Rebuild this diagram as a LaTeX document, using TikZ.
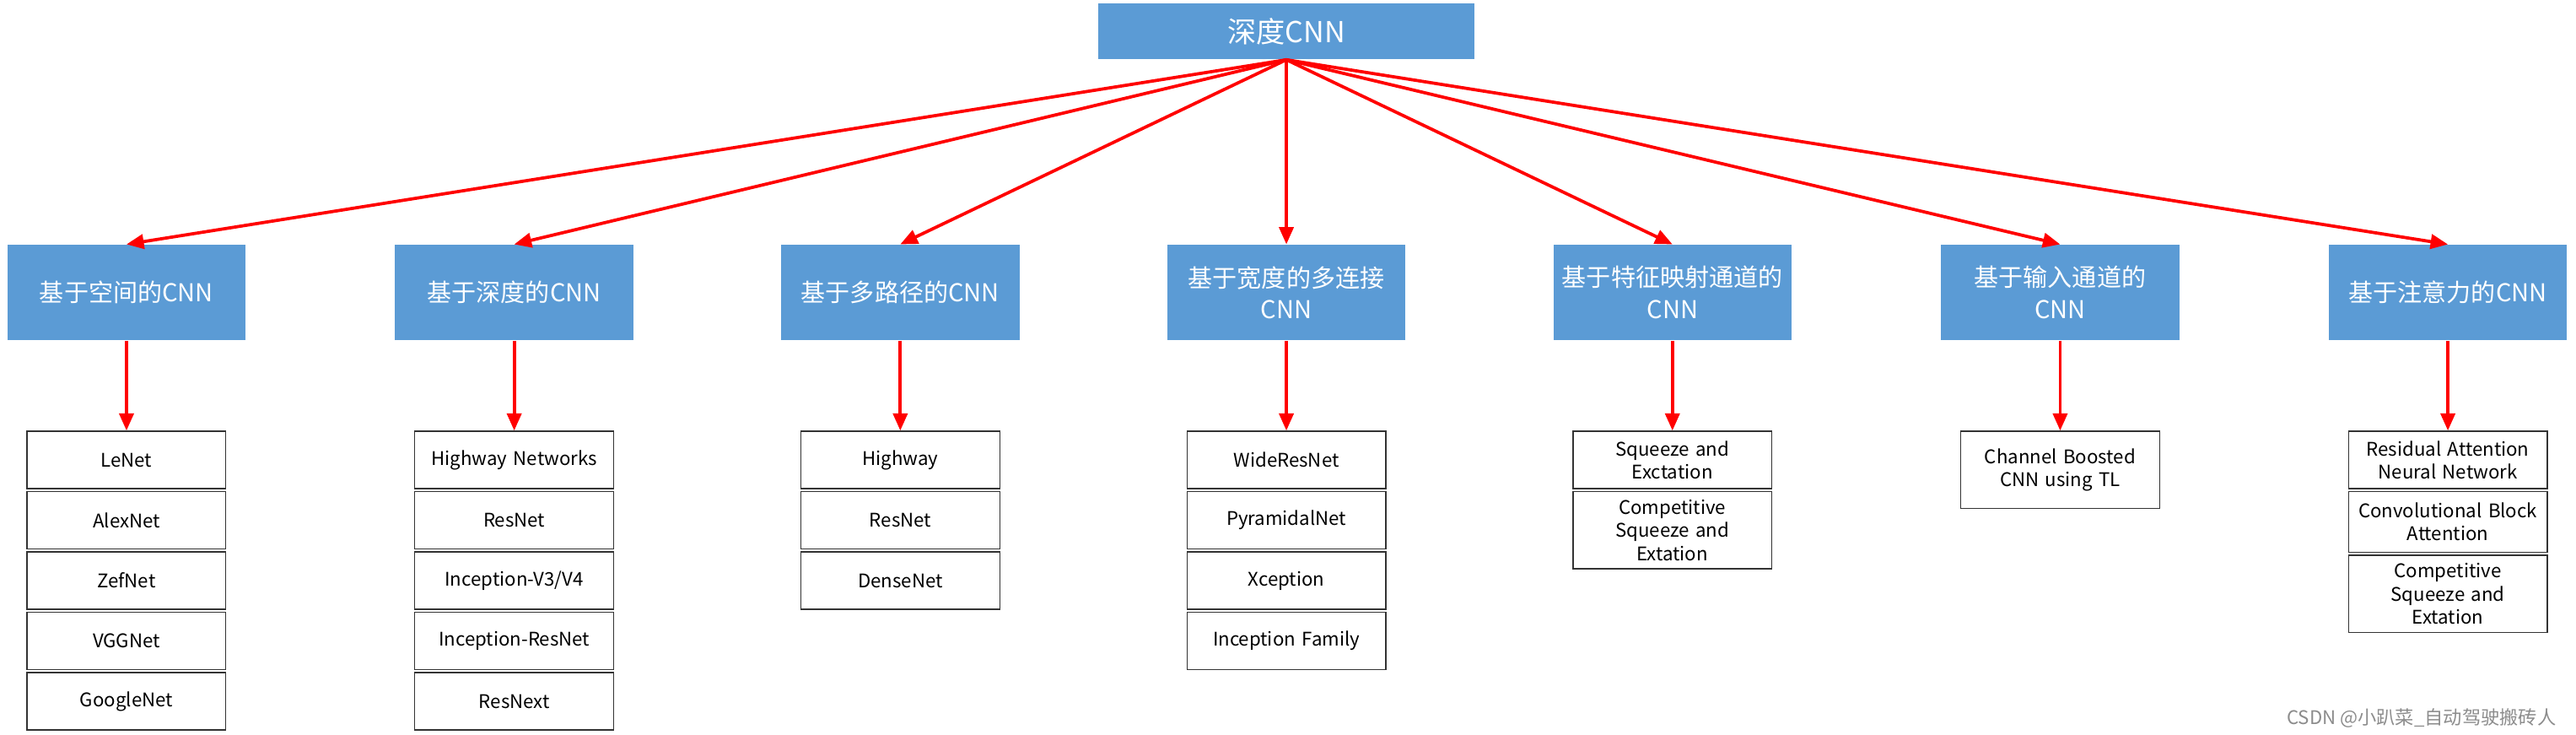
\documentclass[tikz,border=0pt]{standalone}
\usepackage{fontspec}
\setmainfont{Noto Sans CJK SC}
\usetikzlibrary{positioning, arrows.meta}
\definecolor{catblue}{RGB}{91, 155, 213}
\definecolor{linkred}{RGB}{255, 0, 0}

\begin{document}
\begin{tikzpicture}[x=0.02cm, y=-0.02cm,
  top/.style={fill=catblue, text=white, minimum width=229*0.02cm, minimum height=34*0.02cm, inner sep=0pt, font=\fontsize{10}{12}\selectfont},
  cat/.style={fill=catblue, text=white, minimum width=145*0.02cm, minimum height=58*0.02cm, align=center, text width=140*0.02cm, inner sep=0pt, font=\fontsize{8.5}{11}\selectfont},
  leaf/.style={draw=black!80, fill=white, minimum width=121*0.02cm, minimum height=35*0.02cm, align=center, text width=118*0.02cm, inner sep=0pt, font=\fontsize{6.5}{8}\selectfont},
  link/.style={draw=linkred, line width=1.1pt, -{Triangle[length=6pt, width=5pt]}}]
  \useasboundingbox (0, 0) rectangle (1568, 447);

  \node[top] (root) at (783, 19) {深度CNN};

  \node[cat] (c1) at (77, 178) {基于空间的CNN};
  \node[cat] (c2) at (313, 178) {基于深度的CNN};
  \node[cat] (c3) at (548, 178) {基于多路径的CNN};
  \node[cat] (c4) at (783, 178) {基于宽度的多连接\\CNN};
  \node[cat] (c5) at (1018, 178) {基于特征映射通道的\\CNN};
  \node[cat] (c6) at (1254, 178) {基于输入通道的\\CNN};
  \node[cat] (c7) at (1490, 178) {基于注意力的CNN};

  \foreach \i in {1,...,7}
    \draw[link] (root.south) -- (c\i.north);

  % spatial
  \node[leaf, anchor=north] (c1a) at (77, 262) {LeNet};
  \node[leaf, below=1*0.02cm of c1a] (c1b) {AlexNet};
  \node[leaf, below=1*0.02cm of c1b] (c1c) {ZefNet};
  \node[leaf, below=1*0.02cm of c1c] (c1d) {VGGNet};
  \node[leaf, below=1*0.02cm of c1d] (c1e) {GoogleNet};

  % depth
  \node[leaf, anchor=north] (c2a) at (313, 262) {Highway Networks};
  \node[leaf, below=1*0.02cm of c2a] (c2b) {ResNet};
  \node[leaf, below=1*0.02cm of c2b] (c2c) {Inception-V3/V4};
  \node[leaf, below=1*0.02cm of c2c] (c2d) {Inception-ResNet};
  \node[leaf, below=1*0.02cm of c2d] (c2e) {ResNext};

  % multi-path
  \node[leaf, anchor=north] (c3a) at (548, 262) {Highway};
  \node[leaf, below=1*0.02cm of c3a] (c3b) {ResNet};
  \node[leaf, below=1*0.02cm of c3b] (c3c) {DenseNet};

  % width
  \node[leaf, anchor=north] (c4a) at (783, 262) {WideResNet};
  \node[leaf, below=1*0.02cm of c4a] (c4b) {PyramidalNet};
  \node[leaf, below=1*0.02cm of c4b] (c4c) {Xception};
  \node[leaf, below=1*0.02cm of c4c] (c4d) {Inception Family};

  % feature-map channel
  \node[leaf, anchor=north] (c5a) at (1018, 262) {Squeeze and\\Exctation};
  \node[leaf, below=1*0.02cm of c5a, minimum height=47*0.02cm] (c5b) {Competitive\\Squeeze and\\Extation};

  % input channel
  \node[leaf, anchor=north, minimum height=47*0.02cm] (c6a) at (1254, 262) {Channel Boosted\\CNN using TL};

  % attention
  \node[leaf, anchor=north] (c7a) at (1490, 262) {Residual Attention\\Neural Network};
  \node[leaf, below=1*0.02cm of c7a, minimum height=37*0.02cm] (c7b) {Convolutional Block\\Attention};
  \node[leaf, below=1*0.02cm of c7b, minimum height=47*0.02cm] (c7c) {Competitive\\Squeeze and\\Extation};

  \foreach \i in {1,...,7}
    \draw[link] (c\i.south) -- (c\i a.north);

  \node[text=black!45, anchor=east, font=\fontsize{6.5}{8}\selectfont] (mark) at (1562, 437) {CSDN @小趴菜\_自动驾驶搬砖人};
\end{tikzpicture}
\end{document}
